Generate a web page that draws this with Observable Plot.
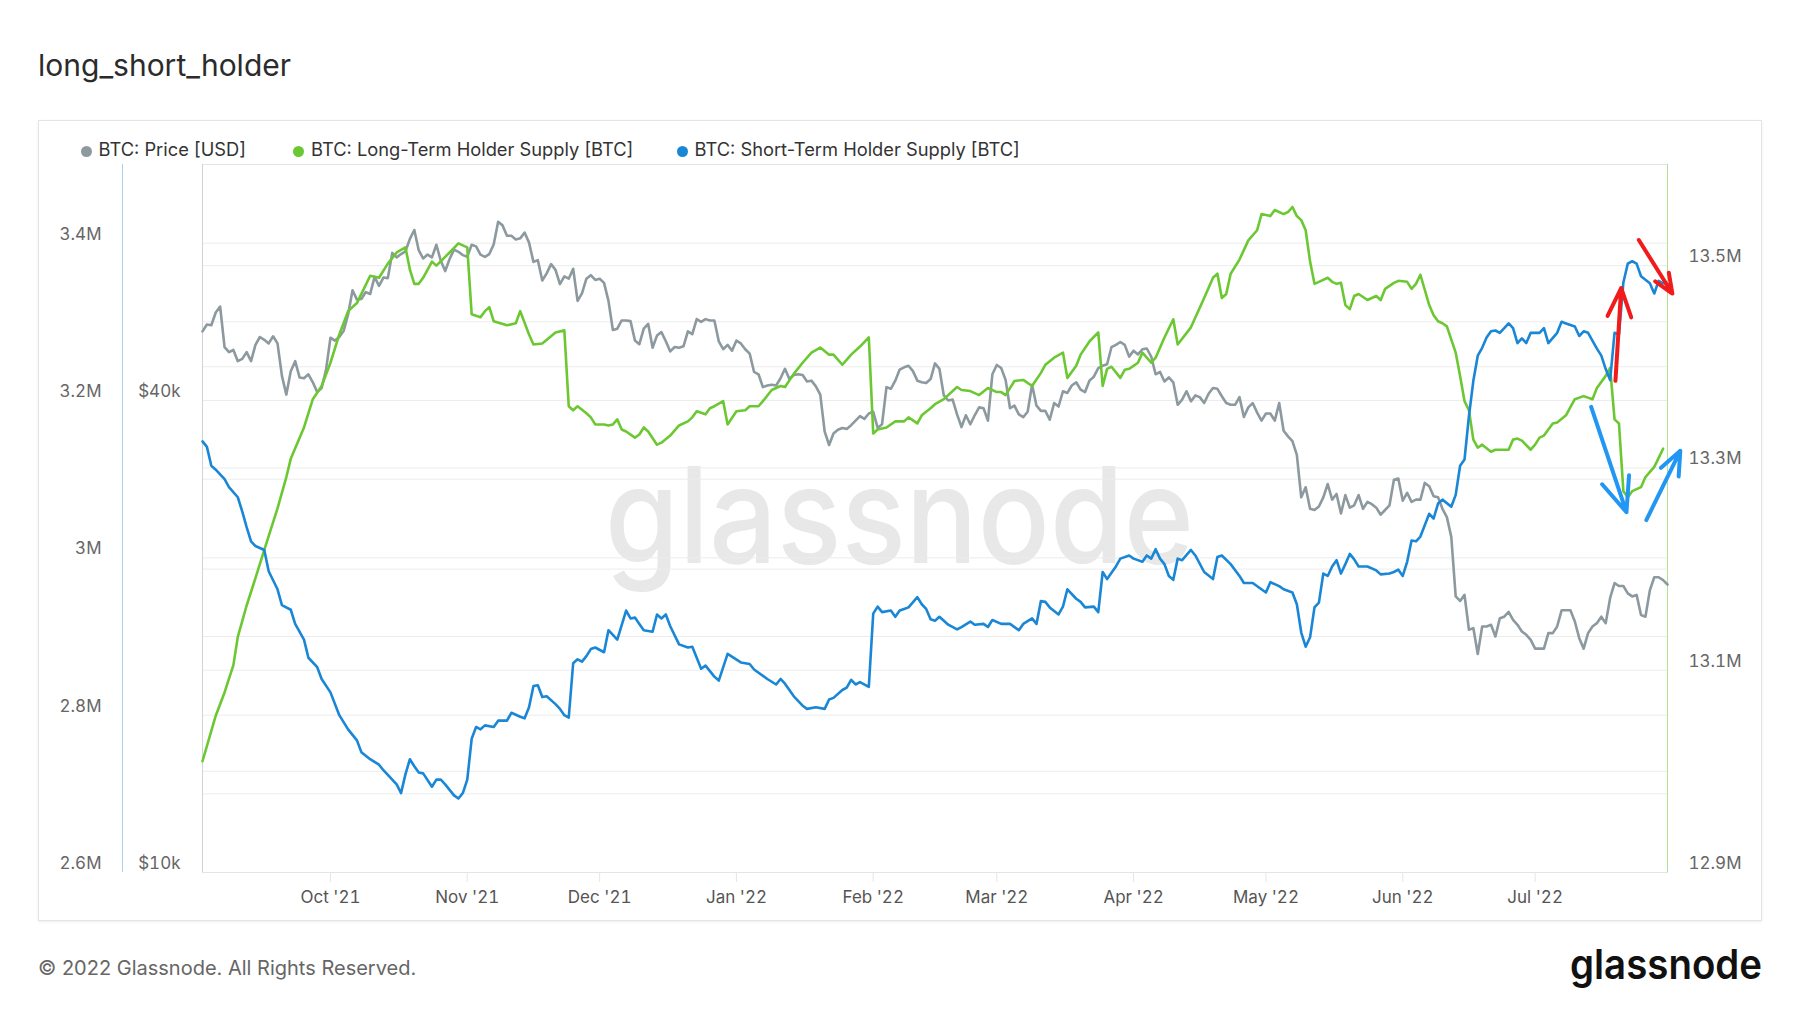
<!DOCTYPE html>
<html><head><meta charset="utf-8">
<script src="https://cdn.jsdelivr.net/npm/d3@7"></script>
<script src="https://cdn.jsdelivr.net/npm/@observablehq/plot@0.6"></script>
<style>
html,body{margin:0;padding:0;background:#fff;}
body{width:1800px;height:1013px;position:relative;overflow:hidden;font-family:Inter,"Noto Sans",sans-serif;}
.abs{position:absolute;}
#title{left:38px;top:45px;font-size:30px;line-height:40px;color:#2b2b2b;white-space:nowrap;}
#box{left:38px;top:120px;width:1722px;height:799px;border:1px solid #e4e4e4;box-shadow:0 1px 3px rgba(0,0,0,0.07);}
.leg{position:absolute;top:137px;height:24px;line-height:24px;font-size:18.3px;color:#333;white-space:nowrap;}
.leg .dot{display:inline-block;width:11px;height:11px;border-radius:50%;margin-right:7px;vertical-align:-0.5px;}
#footer{left:38px;top:955px;font-size:20px;line-height:26px;color:#666;white-space:nowrap;}
</style></head><body>
<div id="title" class="abs">long_short_holder</div>
<div id="box" class="abs"></div>
<svg class="abs" style="left:0;top:0" width="1800" height="1013">
  <text x="605" y="563" textLength="589" lengthAdjust="spacingAndGlyphs" font-family="Inter, sans-serif" font-weight="500" font-size="134" fill="#e8e8e8">glassnode</text>
  <text x="1570" y="979" textLength="192" lengthAdjust="spacingAndGlyphs" font-family="Inter, sans-serif" font-weight="600" font-size="41" fill="#111">glassnode</text>
</svg>
<div id="footer" class="abs">© 2022 Glassnode. All Rights Reserved.</div>
<script>
// ---------- data ----------
const seriesNames = ["BTC: Price [USD]", "BTC: Long-Term Holder Supply [BTC]", "BTC: Short-Term Holder Supply [BTC]"];
const seriesColors = ["#8c999f", "#6cc832", "#1a86d6"];
const startDay = "2021-09-02"; // day 0, daily data through 2022-07-31 (day 332)

// BTC price, USD thousands, one value per day from 2021-09-02
const priceK = [
49.0,50.0,49.9,51.8,52.7,46.8,46.1,46.4,44.9,45.2,46.1,44.9,47.1,48.2,47.8,47.3,48.3,47.3,43.0,40.7,43.6,44.9,42.8,42.7,43.2,42.2,41.0,41.5,43.8,
48.1,47.7,48.2,49.1,51.5,55.3,53.8,53.9,55.0,54.7,57.5,56.0,57.4,57.3,61.7,60.9,61.5,62.0,64.3,66.0,62.2,60.7,61.4,60.9,63.2,60.3,58.5,60.6,62.3,61.9,61.3,
61.0,63.2,62.9,61.4,61.0,61.5,63.3,67.6,66.9,64.9,64.9,64.2,64.4,65.5,63.6,60.1,60.4,56.9,58.1,59.7,58.7,56.3,57.6,57.2,58.9,53.6,54.8,57.2,57.8,57.0,
57.2,56.5,53.6,49.2,49.4,50.6,50.6,50.5,47.7,47.2,49.4,50.1,46.7,48.4,48.9,47.6,46.2,46.8,46.7,46.9,49.0,48.6,50.8,50.4,50.8,50.6,50.6,47.6,46.5,47.1,46.3,
47.7,47.3,46.5,45.9,43.5,43.2,41.6,41.8,41.9,41.8,42.7,43.9,42.6,43.1,43.2,43.1,42.3,42.4,41.7,40.7,36.5,35.1,36.3,36.7,36.9,36.8,37.2,37.7,38.2,37.9,38.5,
38.7,36.9,37.3,41.6,41.4,42.4,43.8,44.1,44.3,43.6,42.4,42.2,42.1,42.6,44.6,43.9,40.6,40.0,40.1,38.4,37.0,38.3,37.3,38.3,39.2,39.1,37.7,43.2,
44.4,44.0,42.5,39.1,39.4,38.4,38.1,38.7,41.9,39.4,38.8,38.8,37.8,39.7,39.3,41.1,40.9,41.8,42.2,41.3,41.0,42.4,42.9,44.0,44.3,44.5,46.8,47.1,47.5,47.1,45.5,
46.3,45.8,46.5,46.6,45.5,43.2,43.5,42.3,42.8,42.2,39.5,40.1,41.1,39.9,40.6,40.4,39.7,40.8,41.5,41.4,40.5,39.7,39.5,39.5,40.4,38.1,39.2,39.7,38.6,37.7,
38.5,38.5,37.7,39.7,36.6,36.0,35.5,34.1,30.1,31.0,29.1,29.0,29.3,30.1,31.3,29.9,30.4,28.7,30.3,29.2,29.4,30.3,29.1,29.7,29.5,29.2,28.6,29.0,29.4,31.7,31.8,
29.8,30.5,29.7,29.9,29.9,31.4,31.1,30.2,30.1,29.1,28.4,26.8,22.5,22.2,22.6,20.4,20.5,19.0,20.6,20.6,20.7,20.0,21.1,21.2,21.5,21.0,20.7,20.3,20.1,19.8,
19.3,19.3,19.3,20.2,20.2,20.6,21.6,21.6,21.6,20.9,19.9,19.3,20.2,20.6,20.8,21.2,20.8,22.4,23.4,23.2,23.2,22.7,22.5,22.6,21.3,21.2,22.9,23.8,23.8,23.6,23.3
];

// Long-term holder supply, million BTC (day offset, value)
const lthDays = [0,3,5,7,8,10,12,14,17,19,20,23,25,27,29,31,33,35,38,40,42,44,46,47,48,49,50,52,53,56,58,60,61,63,64,65,66,69,71,72,74,75,77,80,82,83,84,85,87,88,89,91,92,93,94,95,96,98,99,100,101,103,104,106,108,110,111,112,114,115,116,118,119,121,123,124,126,127,129,131,132,134,136,138,140,142,143,145,147,149,151,152,153,155,157,159,160,162,163,165,166,168,171,172,174,176,178,180,181,182,184,186,188,190,191,193,195,196,198,199,201,203,204,205,206,208,209,210,212,213,215,216,218,220,221,224,227,229,230,231,232,233,235,237,239,240,242,243,245,246,247,248,249,250,251,252,253,255,256,257,258,259,260,261,262,264,265,266,267,268,270,271,273,274,275,276,278,279,280,281,282,284,285,286,287,288,289,290,292,293,294,296,297,298,299,301,302,303,304,306,307,309,310,311,313,315,316,318,319,320,321,322,323,324,326,327,329,330,331];
const lthSupplyM = [13.010,13.055,13.078,13.105,13.133,13.164,13.191,13.219,13.260,13.291,13.309,13.340,13.368,13.381,13.404,13.432,13.455,13.463,13.490,13.488,13.502,13.513,13.518,13.496,13.482,13.482,13.488,13.504,13.500,13.513,13.522,13.518,13.452,13.449,13.455,13.459,13.445,13.441,13.443,13.455,13.432,13.422,13.423,13.434,13.436,13.361,13.357,13.361,13.354,13.350,13.343,13.343,13.342,13.343,13.348,13.338,13.336,13.330,13.333,13.340,13.336,13.323,13.325,13.332,13.342,13.346,13.350,13.356,13.353,13.359,13.361,13.366,13.343,13.356,13.357,13.361,13.361,13.366,13.377,13.381,13.380,13.393,13.404,13.414,13.419,13.412,13.412,13.402,13.412,13.420,13.429,13.334,13.338,13.340,13.346,13.346,13.350,13.344,13.352,13.359,13.363,13.368,13.380,13.377,13.376,13.372,13.379,13.375,13.375,13.372,13.386,13.387,13.381,13.394,13.402,13.409,13.414,13.389,13.401,13.412,13.425,13.434,13.381,13.398,13.400,13.389,13.397,13.398,13.404,13.414,13.404,13.409,13.429,13.447,13.422,13.439,13.468,13.488,13.492,13.468,13.472,13.492,13.506,13.525,13.535,13.551,13.549,13.555,13.551,13.553,13.558,13.549,13.545,13.535,13.504,13.482,13.484,13.488,13.484,13.482,13.483,13.461,13.457,13.470,13.472,13.466,13.468,13.470,13.466,13.477,13.483,13.485,13.484,13.477,13.482,13.491,13.461,13.451,13.445,13.443,13.440,13.414,13.391,13.366,13.357,13.328,13.320,13.323,13.316,13.318,13.318,13.318,13.328,13.329,13.327,13.318,13.323,13.330,13.332,13.344,13.345,13.352,13.360,13.368,13.371,13.368,13.379,13.391,13.399,13.348,13.344,13.277,13.271,13.277,13.281,13.291,13.301,13.310,13.319];

// Short-term holder supply, million BTC (day offset, value)
const sthDays = [0,1,2,3,5,6,8,9,10,11,12,14,15,17,18,20,21,23,24,26,27,29,31,33,35,36,38,40,41,42,44,45,46,47,48,49,50,52,53,54,55,56,57,58,59,60,61,62,63,64,66,67,69,70,72,73,74,75,76,77,78,80,81,82,83,84,85,86,87,88,89,91,92,94,96,97,98,99,100,102,103,104,105,106,108,110,111,113,114,116,117,119,122,124,125,128,130,131,132,134,136,137,139,141,142,143,145,146,147,148,149,151,152,153,154,156,157,158,159,160,162,163,164,165,166,167,168,169,171,172,174,175,177,178,179,181,183,185,186,188,189,190,191,192,194,195,196,198,199,200,202,203,204,205,207,208,210,211,213,214,215,216,217,218,219,220,221,222,224,225,227,229,230,231,233,235,236,238,241,242,244,245,247,248,249,250,251,252,253,254,255,256,257,258,259,260,261,262,264,266,267,269,270,271,272,273,274,275,276,278,279,280,281,283,284,285,286,287,288,289,290,291,292,293,294,296,297,298,299,300,301,303,304,305,307,308,309,311,312,313,314,316,317,318,319,320,321,322,323,324,325,326,328,329,330,331,332];
const sthSupplyM = [3.148,3.141,3.117,3.112,3.100,3.090,3.077,3.059,3.039,3.021,3.015,3.010,2.983,2.960,2.940,2.934,2.916,2.896,2.873,2.861,2.846,2.829,2.800,2.782,2.768,2.753,2.744,2.737,2.730,2.724,2.712,2.701,2.725,2.744,2.735,2.727,2.726,2.709,2.718,2.718,2.712,2.705,2.698,2.694,2.701,2.718,2.770,2.785,2.782,2.787,2.785,2.793,2.793,2.803,2.798,2.796,2.810,2.837,2.838,2.823,2.824,2.814,2.808,2.800,2.797,2.866,2.871,2.868,2.875,2.884,2.886,2.880,2.908,2.896,2.933,2.923,2.924,2.916,2.908,2.906,2.928,2.923,2.928,2.913,2.890,2.886,2.887,2.859,2.863,2.849,2.844,2.878,2.867,2.865,2.858,2.846,2.839,2.846,2.840,2.824,2.812,2.808,2.810,2.808,2.820,2.822,2.832,2.835,2.845,2.839,2.842,2.836,2.929,2.938,2.931,2.933,2.925,2.933,2.935,2.937,2.950,2.941,2.935,2.922,2.920,2.925,2.920,2.915,2.909,2.912,2.919,2.915,2.916,2.912,2.921,2.916,2.916,2.908,2.916,2.923,2.916,2.945,2.944,2.937,2.928,2.938,2.960,2.948,2.944,2.937,2.938,2.931,2.982,2.973,2.989,2.999,3.003,2.999,2.995,3.003,2.999,3.011,2.999,2.992,2.977,2.972,2.999,2.997,3.010,3.003,2.982,2.973,3.001,3.003,2.992,2.977,2.968,2.968,2.956,2.969,2.964,2.960,2.956,2.941,2.905,2.887,2.899,2.937,2.943,2.980,2.977,2.989,2.997,2.980,2.992,3.005,2.998,2.989,2.989,2.984,2.979,2.980,2.982,2.985,2.977,2.995,3.022,3.021,3.027,3.056,3.050,3.069,3.074,3.065,3.080,3.117,3.125,3.180,3.225,3.257,3.267,3.280,3.288,3.289,3.286,3.298,3.292,3.273,3.279,3.273,3.286,3.286,3.292,3.273,3.286,3.300,3.298,3.294,3.282,3.288,3.286,3.266,3.257,3.240,3.226,3.286,3.284,3.350,3.374,3.377,3.374,3.358,3.349,3.336,3.352,3.349,3.348];

// axis ticks and grid values
const sthTicksM = [2.6, 2.8, 3.0, 3.2, 3.4];
const sthGridM = [2.7, 2.8, 2.9, 3.0, 3.1, 3.2, 3.3, 3.4];
const lthTicksM = [12.9, 13.1, 13.3, 13.5];
const lthGridM = [13.0, 13.1, 13.2, 13.3, 13.4, 13.5];
const priceTicks = [10000, 40000];
const monthTickLabels = ["Oct '21","Nov '21","Dec '21","Jan '22","Feb '22","Mar '22","Apr '22","May '22","Jun '22","Jul '22"];

// hand-drawn annotation arrows (day offset, short-term supply in million BTC)
const arrowFromDay = [320.2, 325.5, 314.7, 327.2];
const arrowFromM   = [3.225, 3.404, 3.192, 3.048];
const arrowToDay   = [321.5, 333.1, 322.7, 334.9];
const arrowToM     = [3.343, 3.336, 3.058, 3.136];
const arrowColor   = ["#f21b1b", "#f21b1b", "#2196f3", "#2196f3"];

// ---------- build ----------
const day0 = new Date(startDay + "T00:00:00Z").getTime();
const dayDate = d => new Date(day0 + d * 864e5);
const xStart = dayDate(0), xEnd = dayDate(332);
const priceData = priceK.map((v, i) => ({date: dayDate(i), value: v * 1000}));
const lthData = lthDays.map((d, i) => ({date: dayDate(d), value: lthSupplyM[i] * 1e6}));
const sthData = sthDays.map((d, i) => ({date: dayDate(d), value: sthSupplyM[i] * 1e6}));
const arrows = arrowFromDay.map((d, i) => ({x1: dayDate(d), y1: arrowFromM[i]*1e6, x2: dayDate(arrowToDay[i]), y2: arrowToM[i]*1e6, c: arrowColor[i]}));
const monthTicks = d3.utcMonth.range(new Date(Date.UTC(2021, 9, 1)), new Date(Date.UTC(2022, 7, 1)));
const fmtM = v => `${+(v / 1e6).toFixed(1)}M`;

// legend
seriesNames.forEach((name, i) => {
  const el = document.createElement("div");
  el.className = "leg";
  el.style.left = [80.5, 293, 676.5][i] + "px";
  el.innerHTML = `<span class="dot" style="background:${seriesColors[i]}"></span>${name}`;
  document.body.appendChild(el);
});

const common = {
  width: 1724, height: 770,
  marginTop: 14, marginBottom: 48, marginLeft: 164, marginRight: 95,
  style: {background: "transparent", color: "#666", fontFamily: "Inter, sans-serif", fontSize: "17px", overflow: "visible"}
};
function layer(opts, marks) {
  const svg = Plot.plot({...common, ...opts, marks});
  svg.style.position = "absolute";
  svg.style.left = "38px";
  svg.style.top = "150px";
  document.body.appendChild(svg);
}
const xNoAxis = {type: "utc", domain: [xStart, xEnd], axis: null};
const sthY = {domain: [2.6e6, 3.5e6]};
const lthY = {domain: [12.9e6, 13.6e6]};
const priceY = {type: "log", domain: [1e4, 8e4]};

// STH grid + outer left axis
layer({x: xNoAxis, y: sthY}, [
  Plot.gridY(sthGridM.map(v => v * 1e6), {stroke: "#ececec", strokeOpacity: 1}),
  Plot.axisY(sthTicksM.map(v => v * 1e6), {anchor: "left", tickFormat: fmtM, tickSize: 0, tickPadding: 101, dy: -9, label: null, fill: "#666"}),
  Plot.ruleX([xStart], {dx: -80, stroke: "#a9d0ee"})
]);
// LTH grid + right axis
layer({x: xNoAxis, y: lthY}, [
  Plot.gridY(lthGridM.map(v => v * 1e6), {stroke: "#ececec", strokeOpacity: 1}),
  Plot.axisY(lthTicksM.map(v => v * 1e6), {anchor: "right", tickFormat: fmtM, tickSize: 0, tickPadding: 21, dy: -9, label: null, fill: "#666"}),
  Plot.ruleX([xEnd], {stroke: "#b3e095"})
]);
// frame, x axis, price axis
layer({x: {type: "utc", domain: [xStart, xEnd]}, y: priceY}, [
  Plot.frame({stroke: "#e4e4e4"}),
  Plot.ruleX([xStart], {stroke: "#cfd3d6"}),
  Plot.ruleX([xEnd], {stroke: "#b3e095"}),
  Plot.axisX(monthTicks, {tickFormat: (d, i) => monthTickLabels[i], tickSize: 10, tickPadding: 8, stroke: "#e6e6e6", fill: "#555", label: null}),
  Plot.axisY(priceTicks, {anchor: "left", tickFormat: d => `$${d / 1000}k`, tickSize: 0, tickPadding: 22, dy: -9, label: null, fill: "#666"})
]);
// lines
layer({x: xNoAxis, y: {...priceY, axis: null}}, [
  Plot.line(priceData, {x: "date", y: "value", stroke: seriesColors[0], strokeWidth: 2.6, strokeLinejoin: "round"})
]);
layer({x: xNoAxis, y: {...lthY, axis: null}}, [
  Plot.line(lthData, {x: "date", y: "value", stroke: seriesColors[1], strokeWidth: 2.6, strokeLinejoin: "round"})
]);
layer({x: xNoAxis, y: {...sthY, axis: null}}, [
  Plot.line(sthData, {x: "date", y: "value", stroke: seriesColors[2], strokeWidth: 2.6, strokeLinejoin: "round"}),
  Plot.arrow(arrows, {x1: "x1", y1: "y1", x2: "x2", y2: "y2", stroke: "c", strokeWidth: 4, headLength: 18, headAngle: 45})
]);
</script>
</body></html>
